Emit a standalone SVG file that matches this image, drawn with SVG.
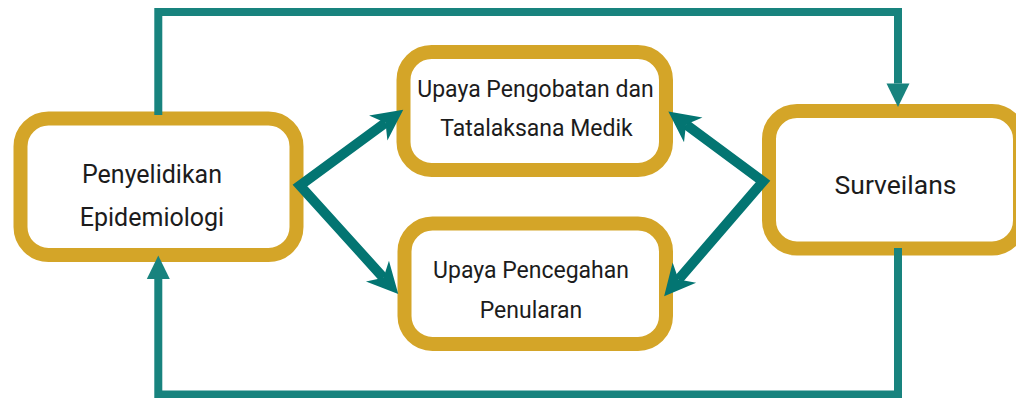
<svg xmlns="http://www.w3.org/2000/svg" width="1016" height="398" viewBox="0 0 1016 398">
<style>
.box{fill:#fff;stroke:#D4A528;stroke-width:14}
.t{font-family:Roboto,"Liberation Sans",sans-serif;fill:#1c1c1c;text-anchor:middle}
.diag{fill:none;stroke:#037572;stroke-width:10;stroke-linejoin:miter;stroke-miterlimit:10}
.loop{fill:none;stroke:#18837E;stroke-width:8;stroke-linejoin:miter}
</style>
<defs>
<marker id="barb" markerUnits="userSpaceOnUse" orient="auto-start-reverse" markerWidth="60" markerHeight="60" viewBox="-30 -30 60 60" refX="0" refY="0" overflow="visible">
<path d="M22,0 L-9,-15.5 L0,0 L-9,15.5 Z" fill="#037572"/>
</marker>
<marker id="tri" markerUnits="userSpaceOnUse" orient="auto" markerWidth="60" markerHeight="60" viewBox="-30 -30 60 60" refX="0" refY="0" overflow="visible">
<path d="M0,-11.5 L23.5,0 L0,11.5 Z" fill="#18837E"/>
</marker>
</defs>
<g id="node-penyelidikan">
<rect class="box" x="20.5" y="118.5" width="276" height="136.5" rx="28"/>
<text class="t" x="152" y="182.5" font-size="25">Penyelidikan</text>
<text class="t" x="152" y="226" font-size="25">Epidemiologi</text>
</g>
<g id="node-pengobatan">
<rect class="box" x="403.5" y="52" width="262.5" height="118" rx="28"/>
<text class="t" x="535.5" y="96.5" font-size="23">Upaya Pengobatan dan</text>
<text class="t" x="536.5" y="136" font-size="23">Tatalaksana Medik</text>
</g>
<g id="node-pencegahan">
<rect class="box" x="404.5" y="223.5" width="261.5" height="120.5" rx="28"/>
<text class="t" x="531" y="277.5" font-size="23">Upaya Pencegahan</text>
<text class="t" x="531" y="318.3" font-size="23">Penularan</text>
</g>
<g id="node-surveilans">
<rect class="box" x="769" y="111" width="251" height="137.5" rx="28"/>
<text class="t" x="895.5" y="194" font-size="26.5">Surveilans</text>
</g>
<g id="connectors">
<path class="diag" d="M385.5,122.8 L300,185.5 L383.5,277.8" marker-start="url(#barb)" marker-end="url(#barb)"/>
<path class="diag" d="M686,124.5 L763,181.5 L678.5,279.5" marker-start="url(#barb)" marker-end="url(#barb)"/>
<path class="loop" d="M158.3,115 V12 H898 V83.5" marker-end="url(#tri)"/>
<path class="loop" d="M898,248 V394.5 H158.3 V279" marker-end="url(#tri)"/>
</g>
</svg>
